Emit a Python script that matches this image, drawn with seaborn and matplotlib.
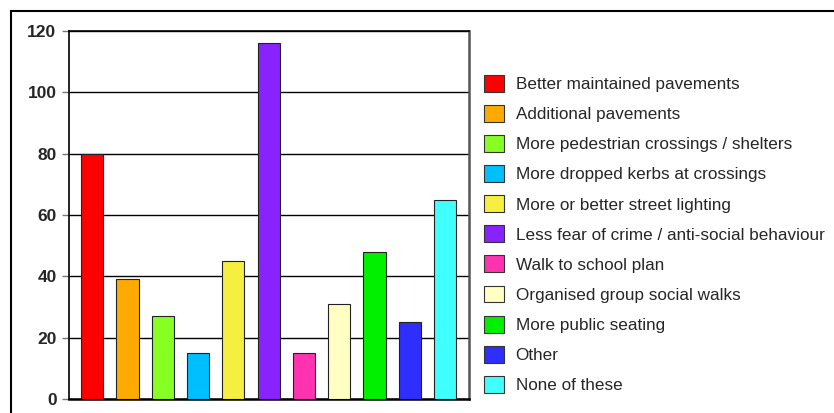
import matplotlib
matplotlib.use("Agg")
import matplotlib.pyplot as plt
import matplotlib.patches as mpatches
import pandas as pd
import seaborn as sns

categories = [
    "Better maintained pavements",
    "Additional pavements",
    "More pedestrian crossings / shelters",
    "More dropped kerbs at crossings",
    "More or better street lighting",
    "Less fear of crime / anti-social behaviour",
    "Walk to school plan",
    "Organised group social walks",
    "More public seating",
    "Other",
    "None of these",
]
values = [80, 39, 27, 15, 45, 116, 15, 31, 48, 25, 65]
colors = ["#ff0000", "#ffaa00", "#88ff22", "#00bfff", "#f5f040", "#8822ff",
          "#ff33b0", "#ffffc4", "#00f000", "#2e2eff", "#40ffff"]

df = pd.DataFrame({"category": categories, "value": values})

sns.set_style("white")
plt.rcParams["font.family"] = ["Liberation Sans", "DejaVu Sans"]

fig = plt.figure(figsize=(8.34, 4.13), dpi=100)
ax = fig.add_axes([69 / 834, 14 / 413, 400 / 834, 368 / 413])

sns.barplot(data=df, x="category", y="value", hue="category", palette=colors,
            legend=False, width=0.63, saturation=1, edgecolor="#222222",
            linewidth=0.8, zorder=3, ax=ax)

ax.set_ylim(0, 120)
ax.set_xlim(-0.66, len(categories) - 0.32)
ax.set_yticks(range(0, 121, 20))
ax.set_xticks([])
ax.set_xlabel("")
ax.set_ylabel("")
ax.yaxis.grid(True, color="black", linewidth=1.0, zorder=0)
ax.set_axisbelow(True)
for s in ax.spines.values():
    s.set_visible(True)
    s.set_color("black")
    s.set_linewidth(1.2)
ax.spines["bottom"].set_linewidth(1.8)
ax.spines["right"].set_color("#555555")
ax.spines["right"].set_linewidth(1.8)
ax.tick_params(axis="y", length=5, width=1, color="#777777", pad=4,
               left=True, labelsize=12.5)
for lbl in ax.get_yticklabels():
    lbl.set_fontweight("bold")

handles = [mpatches.Patch(facecolor=c, edgecolor="#333333", linewidth=0.8, label=l)
           for c, l in zip(colors, categories)]
fig.legend(handles=handles, loc="upper left", bbox_to_anchor=(484 / 834, 1 - 75 / 413),
           frameon=False, fontsize=12.3, handlelength=1.2, handleheight=1.15,
           labelspacing=0.75, handletextpad=0.65, borderaxespad=0,
           borderpad=0)

# outer chart border
fig.add_artist(mpatches.Rectangle((11 / 834, -0.05), 1.0, 1 - 11 / 413 + 0.05,
                                  transform=fig.transFigure, fill=False,
                                  edgecolor="black", linewidth=1.5))

fig.savefig("out.png", dpi=100)
